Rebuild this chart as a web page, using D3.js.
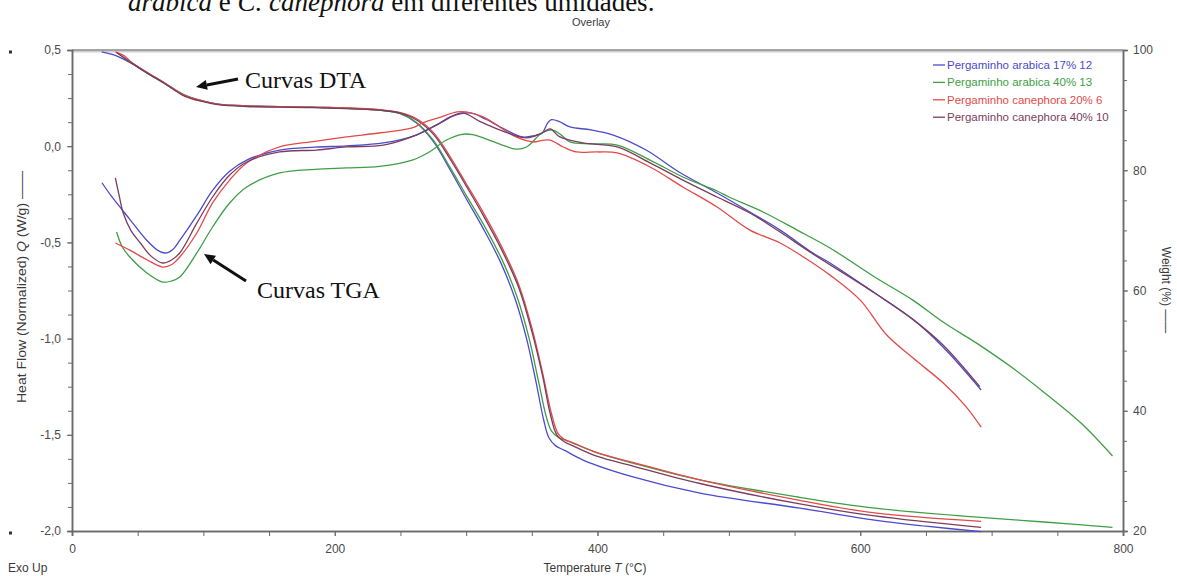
<!DOCTYPE html>
<html>
<head>
<meta charset="utf-8">
<script src="https://cdn.jsdelivr.net/npm/d3@7/dist/d3.min.js"></script>
<style>
    body { margin: 0; background: #fff; }
    svg { display: block; }
</style>
</head>
<body>
<svg id="drawing_region"></svg>
<script>
const seriesNames = ["Pergaminho arabica 17% 12", "Pergaminho arabica 40% 13", "Pergaminho canephora 20% 6", "Pergaminho canephora 40% 10"];
const seriesColors = ["#4b4bcc", "#3f9e45", "#e24a4a", "#7b3d5e"];

// heat flow (W/g) vs temperature (°C)
const heatArabica17 = [[22.8,-0.19],[30,-0.26],[44,-0.38],[57,-0.49],[65,-0.54],[71,-0.555],[77,-0.535],[82,-0.49],[95,-0.36],[107,-0.23],[120,-0.13],[133,-0.072],[158,-0.02],[185,-0.005],[209,0.002],[237,0.017],[262,0.058],[280,0.12],[288,0.152],[303,0.173],[315,0.14],[326,0.1],[343,0.048],[352,0.055],[358,0.069],[362,0.12],[365,0.138],[371,0.128],[379,0.1],[395,0.085],[412,0.058],[437,-0.02],[462,-0.134],[491,-0.243],[516,-0.342],[539,-0.436],[564,-0.555],[577,-0.607],[611,-0.763],[640,-0.9],[663,-1.044],[692,-1.267]];
const heatArabica40 = [[34,-0.446],[38,-0.52],[44,-0.576],[57,-0.659],[69,-0.706],[76,-0.7],[82,-0.68],[95,-0.555],[107,-0.42],[120,-0.295],[133,-0.212],[158,-0.139],[185,-0.12],[209,-0.113],[234,-0.105],[259,-0.072],[272,-0.03],[285,0.032],[297,0.062],[305,0.06],[313,0.043],[326,0.01],[338,-0.015],[346,-0.004],[358,0.07],[366,0.084],[372,0.06],[379,0.022],[395,0.012],[415,0.006],[440,-0.072],[465,-0.16],[491,-0.233],[500,-0.264],[526,-0.342],[552,-0.436],[577,-0.529],[611,-0.68],[640,-0.8],[663,-0.914],[690,-1.03],[716,-1.153],[740,-1.28],[768,-1.439],[792,-1.61]];
const heatCanephora20 = [[33,-0.503],[44,-0.54],[57,-0.59],[69,-0.628],[76,-0.615],[82,-0.576],[95,-0.451],[107,-0.295],[120,-0.176],[133,-0.087],[158,-0.004],[185,0.025],[209,0.048],[235,0.07],[259,0.095],[267,0.121],[280,0.15],[293,0.178],[300,0.178],[313,0.152],[338,0.048],[351,0.022],[358,0.03],[364,0.032],[374,-0.004],[384,-0.03],[400,-0.03],[415,-0.035],[440,-0.108],[465,-0.212],[491,-0.316],[516,-0.436],[539,-0.503],[560,-0.59],[577,-0.67],[600,-0.8],[620,-0.98],[640,-1.1],[663,-1.23],[680,-1.35],[692,-1.46]];
const heatCanephora40 = [[33,-0.165],[36,-0.26],[39,-0.347],[45,-0.44],[52,-0.503],[60,-0.57],[69,-0.607],[76,-0.59],[82,-0.555],[95,-0.4],[107,-0.264],[120,-0.15],[133,-0.082],[158,-0.03],[186,-0.02],[209,-0.004],[237,0.006],[262,0.058],[280,0.12],[297,0.173],[310,0.13],[326,0.084],[346,0.043],[358,0.07],[364,0.09],[371,0.05],[389,0.017],[415,-0.004],[440,-0.087],[465,-0.176],[491,-0.264],[516,-0.347],[539,-0.446],[564,-0.56],[611,-0.763],[640,-0.9],[663,-1.033],[691,-1.25]];

// weight (%) vs temperature (°C)
const weightArabica17 = [[22.6,99.7],[30,99.3],[36,98.8],[45,97.8],[57,96.2],[70,94.5],[86,92.4],[100,91.5],[111,91],[133,90.7],[183,90.5],[234,90.0],[250,89.4],[262,87.9],[275,84.8],[288,80],[300,75.3],[313,70.3],[326,64.8],[337,58.8],[346,52],[353,45],[359,38.5],[363,35.5],[368,34.2],[375,33.4],[389,31.8],[427,29],[478,26.3],[554,23.8],[611,21.8],[650,20.8],[692,19.9]];
const weightArabica40 = [[34,99.6],[45,97.9],[57,96.3],[70,94.6],[86,92.5],[100,91.5],[111,91],[133,90.7],[183,90.5],[234,90],[250,89.4],[262,88],[275,85],[288,80.4],[301,75.5],[315,70.3],[328,64.8],[339,58.8],[348,52],[355,45],[361,39],[365,36.6],[370,35.6],[377,35],[400,33],[427,31.3],[478,28.5],[554,25.6],[611,23.8],[689,22.3],[740,21.5],[792,20.6]];
const weightCanephora20 = [[33,99.7],[40,99],[45,98],[57,96.3],[70,94.6],[86,92.4],[100,91.5],[111,91],[133,90.7],[183,90.5],[234,90.1],[250,89.6],[262,88.6],[275,86.3],[288,82.2],[300,77.8],[313,73],[327,67.3],[340,61],[350,53.8],[358,46.5],[365,39.5],[370,36.2],[375,35.2],[381,34.7],[400,33],[427,31.4],[478,28.5],[554,25.1],[611,23],[692,21.6]];
const weightCanephora40 = [[34,99.6],[45,97.9],[57,96.2],[70,94.5],[86,92.3],[100,91.4],[111,90.9],[133,90.6],[183,90.4],[234,90],[250,89.5],[262,88.4],[275,86],[288,81.8],[300,77.4],[313,72.5],[327,66.8],[340,60.5],[350,53.2],[358,46],[364,39.5],[369,36],[375,34.8],[381,34.2],[400,32.4],[427,30.8],[478,27.9],[554,24.5],[611,22.5],[692,20.6]];

const tempTicks = [0, 200, 400, 600, 800];
const heatTicks = [-2, -1.5, -1, -0.5, 0, 0.5];
const weightTicks = [20, 40, 60, 80, 100];

class OverlayChart {

    constructor( config ) {
        this.config = {
            parent: config.parent,
            width: config.width || 1177,
            height: config.height || 576,
            margin: config.margin || {top: 50, right: 54, bottom: 45, left: 72}
        }
        this.init();
    }

    init() {
        let self = this;
        const m = self.config.margin;

        self.svg = d3.select( self.config.parent )
            .attr('width', self.config.width)
            .attr('height', self.config.height);

        self.inner_width = self.config.width - m.left - m.right;
        self.inner_height = self.config.height - m.top - m.bottom;

        self.chart = self.svg.append('g')
            .attr('transform', `translate(${m.left}, ${m.top})`);

        self.xscale = d3.scaleLinear().domain([0, 800]).range([0, self.inner_width]);
        self.yheat = d3.scaleLinear().domain([-2, 0.5]).range([self.inner_height, 0]);
        self.yweight = d3.scaleLinear().domain([20, 100]).range([self.inner_height, 0]);
    }

    render() {
        let self = this;
        const W = self.inner_width, H = self.inner_height;
        const comma = d => (d < 0 ? '-' : '') + d3.format('.1f')(Math.abs(d)).replace('.', ',');
        const tickFont = '"Liberation Sans", Arial, sans-serif';

        // top frame line
        self.chart.append('line')
            .attr('x1', 0).attr('x2', W).attr('y1', 1.5).attr('y2', 1.5)
            .attr('stroke', '#d0d0d0').attr('stroke-width', 2);
        self.chart.append('line')
            .attr('x1', 0).attr('x2', W).attr('y1', 0).attr('y2', 0)
            .attr('stroke', '#8a8a8a').attr('stroke-width', 1.5);

        // axes (major + minor ticks)
        self.chart.append('g')
            .call(d3.axisLeft(self.yheat).tickValues(heatTicks).tickFormat(comma).tickSize(5).tickPadding(6));
        self.chart.append('g')
            .call(d3.axisLeft(self.yheat).tickValues(d3.range(-2, 0.5, 0.125)).tickFormat('').tickSize(4));

        self.chart.append('g')
            .attr('transform', `translate(${W},0)`)
            .call(d3.axisRight(self.yweight).tickValues(weightTicks).tickSize(5).tickPadding(5));
        self.chart.append('g')
            .attr('transform', `translate(${W},0)`)
            .call(d3.axisRight(self.yweight).tickValues(d3.range(20, 100, 5)).tickFormat('').tickSize(4));

        self.chart.append('g')
            .attr('transform', `translate(0,${H})`)
            .call(d3.axisBottom(self.xscale).tickValues(tempTicks).tickFormat(d3.format('d')).tickSize(5).tickPadding(8));
        self.chart.append('g')
            .attr('transform', `translate(0,${H})`)
            .call(d3.axisBottom(self.xscale).tickValues(d3.range(0, 800, 50)).tickFormat('').tickSize(5));

        self.chart.selectAll('.domain').attr('stroke', '#6a6a6a').attr('stroke-width', 1.5);
        self.chart.selectAll('.tick line').attr('stroke', '#6a6a6a');
        self.chart.selectAll('.tick text')
            .attr('fill', '#4a4a4a')
            .style('font-family', tickFont)
            .style('font-size', '12px');

        // curves
        const heatLine = d3.line()
            .x(d => self.xscale(d[0]))
            .y(d => self.yheat(d[1]))
            .curve(d3.curveCatmullRom.alpha(0.5));
        const weightLine = d3.line()
            .x(d => self.xscale(d[0]))
            .y(d => self.yweight(d[1]))
            .curve(d3.curveCatmullRom.alpha(0.5));

        const heatSets = [heatArabica17, heatArabica40, heatCanephora20, heatCanephora40];
        const weightSets = [weightArabica17, weightArabica40, weightCanephora20, weightCanephora40];

        self.chart.selectAll('path.weight')
            .data(weightSets)
            .enter()
            .append('path')
            .attr('class', 'weight')
            .attr('d', weightLine)
            .attr('fill', 'none')
            .attr('stroke', (d, i) => seriesColors[i])
            .attr('stroke-width', 1.3);

        self.chart.selectAll('path.heat')
            .data(heatSets)
            .enter()
            .append('path')
            .attr('class', 'heat')
            .attr('d', heatLine)
            .attr('fill', 'none')
            .attr('stroke', (d, i) => seriesColors[i])
            .attr('stroke-width', 1.3);

        // legend
        const legend = self.svg.append('g')
            .attr('transform', 'translate(933, 65)');
        const rows = legend.selectAll('g')
            .data(seriesNames)
            .enter()
            .append('g')
            .attr('transform', (d, i) => `translate(0, ${i * 17.4})`);
        rows.append('line')
            .attr('x1', 0).attr('x2', 12)
            .attr('stroke', (d, i) => seriesColors[i])
            .attr('stroke-width', 1.3);
        rows.append('text')
            .attr('x', 14)
            .attr('dy', '0.35em')
            .attr('fill', (d, i) => seriesColors[i])
            .style('font-family', tickFont)
            .style('font-size', '11.5px')
            .text(d => d);

        // titles and axis labels
        const label = (x, y, txt, size) => self.svg.append('text')
            .attr('x', x).attr('y', y)
            .attr('fill', '#3a3a3a')
            .style('font-family', tickFont)
            .style('font-size', size + 'px')
            .text(txt);

        label(591, 26, 'Overlay', 11).attr('text-anchor', 'middle');
        label(8, 572, 'Exo Up', 12);

        const xl = label(595, 572, '', 12).attr('text-anchor', 'middle');
        xl.append('tspan').text('Temperature ');
        xl.append('tspan').style('font-style', 'italic').text('T');
        xl.append('tspan').text(' (°C)');

        const yl = self.svg.append('text')
            .attr('transform', 'translate(26, 287) rotate(-90)')
            .attr('text-anchor', 'middle')
            .attr('textLength', 232)
            .attr('lengthAdjust', 'spacingAndGlyphs')
            .attr('fill', '#3a3a3a')
            .style('font-family', tickFont)
            .style('font-size', '13px');
        yl.append('tspan').text('Heat Flow (Normalized)  ');
        yl.append('tspan').style('font-style', 'italic').text('Q');
        yl.append('tspan').text('  (W/g) ——');

        self.svg.append('text')
            .attr('transform', 'translate(1162, 290) rotate(90)')
            .attr('text-anchor', 'middle')
            .attr('fill', '#3a3a3a')
            .style('font-family', tickFont)
            .style('font-size', '12px')
            .text('Weight  (%) ——');

        // little marks on the left edge
        self.svg.selectAll('rect.mark')
            .data([0.5, -2])
            .enter()
            .append('rect')
            .attr('class', 'mark')
            .attr('x', 9).attr('y', d => self.config.margin.top + self.yheat(d) + 0.5)
            .attr('width', 3).attr('height', 3)
            .attr('fill', '#333');

        // caption fragment from the page above
        const cap = self.svg.append('text')
            .attr('x', 128).attr('y', 11)
            .attr('fill', '#111')
            .style('font-family', '"Liberation Serif", "Times New Roman", serif')
            .style('font-size', '27px');
        cap.append('tspan').style('font-style', 'italic').text('arabica');
        cap.append('tspan').text(' e ');
        cap.append('tspan').style('font-style', 'italic').text('C. canephora');
        cap.append('tspan').text(' em diferentes umidades.');

        // annotations
        const serif = '"Liberation Serif", "Times New Roman", serif';
        self.svg.append('text')
            .attr('x', 245).attr('y', 88)
            .style('font-family', serif).style('font-size', '24px')
            .attr('fill', '#111')
            .text('Curvas DTA');
        self.svg.append('text')
            .attr('x', 257).attr('y', 298)
            .style('font-family', serif).style('font-size', '24px')
            .attr('fill', '#111')
            .text('Curvas TGA');

        const arrow = (x1, y1, x2, y2) => {
            const a = Math.atan2(y2 - y1, x2 - x1);
            const len = 11, wid = 5;
            const bx = x2 - len * Math.cos(a), by = y2 - len * Math.sin(a);
            self.svg.append('line')
                .attr('x1', x1).attr('y1', y1).attr('x2', bx).attr('y2', by)
                .attr('stroke', '#111').attr('stroke-width', 3);
            self.svg.append('path')
                .attr('d', `M${x2},${y2} L${bx + wid * Math.sin(a)},${by - wid * Math.cos(a)} L${bx - wid * Math.sin(a)},${by + wid * Math.cos(a)} Z`)
                .attr('fill', '#111');
        };
        arrow(238, 79, 196, 87);
        arrow(246, 281, 204, 254);
    }
}

const chart = new OverlayChart({ parent: '#drawing_region', width: 1177, height: 576 });
chart.render();
</script>
</body>
</html>
